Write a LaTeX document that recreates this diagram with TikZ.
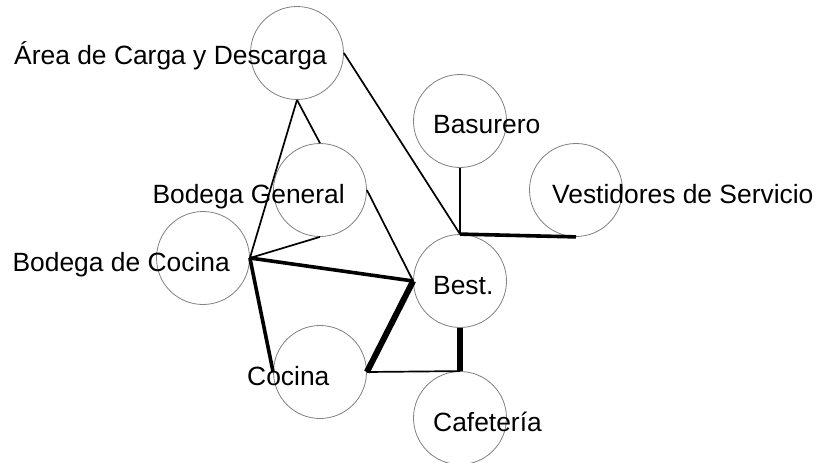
\documentclass[tikz,border=0pt]{standalone}
\usepackage{fontspec}
\setmainfont{Liberation Sans}
\usepackage{tikz}
\usetikzlibrary{calc,positioning}
\definecolor{ringGray}{RGB}{128,128,128}
\definecolor{linkBlack}{RGB}{0,0,0}

\begin{document}
\begin{tikzpicture}[x=1pt, y=-1pt,
  zone/.style={circle, draw=ringGray, line width=0.8pt, minimum size=93pt, inner sep=0pt},
  tag/.style={font=\fontsize{26.4}{31}\selectfont, inner sep=0pt},
  link/.style={linkBlack, line width=1.7pt},
  linkMid/.style={linkBlack, line width=3.6pt},
  linkBig/.style={linkBlack, line width=6pt}]
\useasboundingbox (0,0) rectangle (819,463);

\node[zone] (carga) at (297,53) {};
\node[zone] (basurero) at (460,121) {};
\node[zone] (vestidores) at (576,190) {};
\node[zone] (general) at (320,190) {};
\node[zone] (bcocina) at (203,258) {};
\node[zone] (best) at (460,281) {};
\node[zone] (cocina) at (320,372) {};
\node[zone] (cafeteria) at (460,418) {};

\draw[link] (carga.south) -- (general.north);
\draw[link] (carga.south) -- (bcocina.east);
\draw[link] (carga.east) -- (best.north);
\draw[link] (basurero.south) -- (best.north);
\draw[linkMid] (best.north) -- (vestidores.south);
\draw[link] (general.south) -- (bcocina.east);
\draw[link] (general.east) -- (best.west);
\draw[linkMid] (bcocina.east) -- (best.west);
\draw[linkMid] (bcocina.east) -- (cocina.west);
\draw[linkBig] (best.west) -- (cocina.east);
\draw[link] (cocina.east) -- (cafeteria.north);
\draw[linkBig] (best.south) -- (cafeteria.north);

\node[tag, anchor=base east] (tCarga) at (327,64) {Área de Carga y Descarga};
\node[tag, anchor=base west] (tBasurero) at (433,133) {Basurero};
\node[tag, anchor=base west] (tVestidores) at (552,203) {Vestidores de Servicio};
\node[tag, anchor=base east] (tGeneral) at (345,203) {Bodega General};
\node[tag, anchor=base east] (tBcocina) at (230,271) {Bodega de Cocina};
\node[tag, anchor=base west] (tBest) at (433,294) {Best.};
\node[tag, anchor=base west] (tCocina) at (247,385) {Cocina};
\node[tag, anchor=base west] (tCafeteria) at (433,431) {Cafetería};
\end{tikzpicture}
\end{document}
